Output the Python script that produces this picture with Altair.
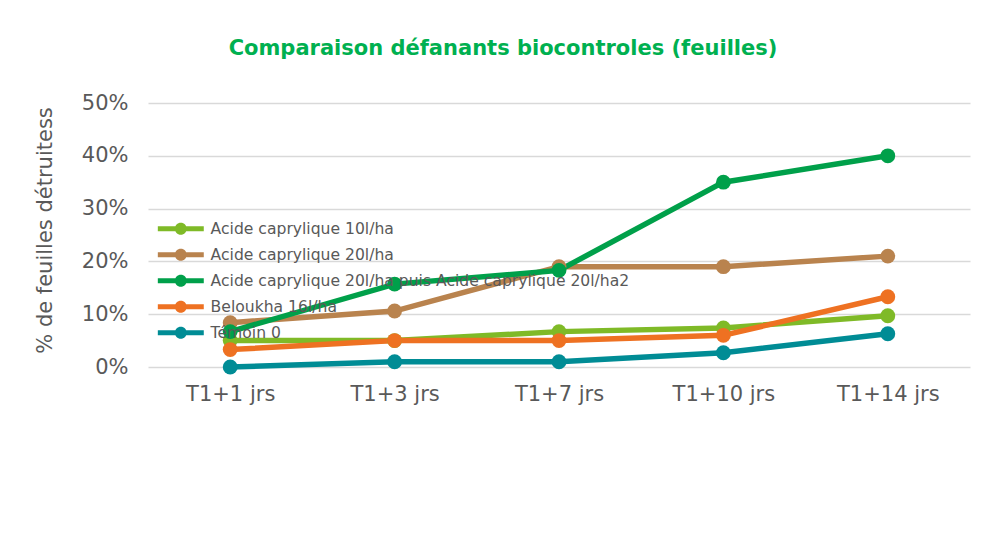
import altair as alt
import pandas as pd

categories = ["T1+1 jrs", "T1+3 jrs", "T1+7 jrs", "T1+10 jrs", "T1+14 jrs"]
series = [
    "Acide caprylique 10l/ha",
    "Acide caprylique 20l/ha",
    "Acide caprylique 20l/ha puis Acide caprylique 20l/ha2",
    "Beloukha 16l/ha",
    "Témoin 0",
]
colors = ["#7FBA27", "#B9834E", "#00A04A", "#EE7122", "#008C95"]

acide_10 = [0.050, 0.050, 0.067, 0.074, 0.097]
acide_20 = [0.084, 0.106, 0.190, 0.190, 0.210]
acide_20_puis = [0.067, 0.157, 0.183, 0.350, 0.400]
beloukha = [0.033, 0.050, 0.050, 0.060, 0.133]
temoin = [0.000, 0.010, 0.010, 0.027, 0.063]

values = [acide_10, acide_20, acide_20_puis, beloukha, temoin]

rows = []
for s, vals in zip(series, values):
    for c, v in zip(categories, vals):
        rows.append({"cat": c, "series": s, "serie_ligne": s, "value": v})
df = pd.DataFrame(rows)

FONT = "DejaVu Sans"
GRAY = "#595959"

# legend glyph: a thick line with a dot (filled shapes only, no arcs);
# units are sqrt(symbolSize)/2 = 6 px
glyph = (
    "M-3.83,-0.42L3.83,-0.42L3.83,0.42L-3.83,0.42Z"
    "M1,0C1,0.552,0.552,1,0,1"
    "C-0.552,1,-1,0.552,-1,0"
    "C-1,-0.552,-0.552,-1,0,-1"
    "C0.552,-1,1,-0.552,1,0Z"
)

legend = alt.Legend(
    title=None,
    orient="bottom-left",
    direction="vertical",
    padding=66,
    offset=-41,
    symbolType=glyph,
    symbolSize=144,
    symbolStrokeWidth=0,
    symbolOpacity=1,
    labelFont=FONT,
    labelFontSize=15.6,
    labelColor=GRAY,
    labelOffset=22,
    labelLimit=600,
    rowPadding=9,
)

x_enc = alt.X(
    "cat:N",
    sort=categories,
    title=None,
    scale=alt.Scale(domain=categories, padding=0.5),
    axis=alt.Axis(labelAngle=0, labelPadding=16, grid=False),
)
y_enc = alt.Y(
    "value:Q",
    scale=alt.Scale(domain=[0, 0.5]),
    axis=alt.Axis(
        format=".0%",
        values=[0, 0.1, 0.2, 0.3, 0.4, 0.5],
        title="% de feuilles détruitess",
        titleX=-103,
        titleY=127,
        titleAngle=-90,
        titleAlign="center",
        titleBaseline="middle",
        labelPadding=20,
    ),
)

base = alt.Chart(df)

# stroke scale gets an extra unused domain entry so its legend is not merged
# with (and does not disable) the colour legend of the points
lines = base.mark_line(strokeWidth=5.5).encode(
    x=x_enc,
    y=y_enc,
    stroke=alt.Stroke(
        "serie_ligne:N",
        sort=series,
        scale=alt.Scale(domain=series + ["_"], range=colors + ["#000000"]),
        legend=None,
    ),
)
points = base.mark_point(filled=True, size=220, opacity=1).encode(
    x=x_enc,
    y=y_enc,
    color=alt.Color("series:N", sort=series, scale=alt.Scale(domain=series, range=colors), legend=legend),
)

chart = (
    alt.layer(lines, points)
    .properties(
        width=822,
        height=264,
        autosize=alt.AutoSizeParams(type="none"),
        padding={"left": 140, "top": 95, "right": 8, "bottom": 180},
        title=alt.TitleParams(
            "Comparaison défanants biocontroles (feuilles)",
            font=FONT,
            fontSize=21,
            fontWeight="bold",
            color="#00B050",
            anchor="middle",
            baseline="alphabetic",
            dx=-56,
            offset=16,
        ),
    )
    .configure_view(stroke=None)
    .configure_axis(
        labelFont=FONT,
        labelFontSize=21,
        labelColor=GRAY,
        titleFont=FONT,
        titleFontSize=21,
        titleColor=GRAY,
        titleFontWeight="normal",
        domain=False,
        ticks=False,
        gridColor="#D9D9D9",
        gridWidth=1.5,
    )
)

chart.save("out.html", embed_options={"renderer": "svg", "actions": False})
